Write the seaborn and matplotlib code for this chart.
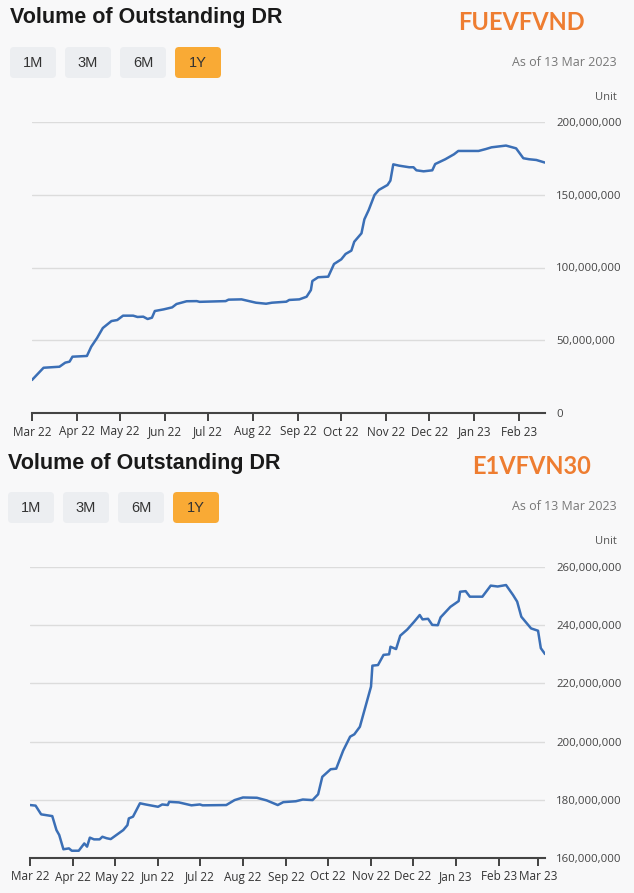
import pandas as pd
import numpy as np
import matplotlib
matplotlib.use("Agg")
import matplotlib.pyplot as plt
import matplotlib.dates as mdates
from matplotlib.patches import FancyBboxPatch
from matplotlib.ticker import FuncFormatter
import seaborn as sns

sns.set_style("white")

# FUEVFVND - volume of outstanding DR (units)
top_dates = ["2022-03-01", "2022-03-09", "2022-03-20", "2022-03-24", "2022-03-27", "2022-03-29",
             "2022-04-08", "2022-04-11", "2022-04-15", "2022-04-19", "2022-04-25", "2022-04-29",
             "2022-05-03", "2022-05-10", "2022-05-13", "2022-05-17", "2022-05-20", "2022-05-23",
             "2022-05-25", "2022-05-31", "2022-06-06", "2022-06-09", "2022-06-16", "2022-06-23",
             "2022-06-25", "2022-07-13", "2022-07-15", "2022-07-24", "2022-08-03", "2022-08-10",
             "2022-08-14", "2022-08-24", "2022-08-26", "2022-09-02", "2022-09-07", "2022-09-10",
             "2022-09-11", "2022-09-15", "2022-09-22", "2022-09-26", "2022-10-01", "2022-10-04",
             "2022-10-08", "2022-10-10", "2022-10-15", "2022-10-17", "2022-10-20", "2022-10-24",
             "2022-10-27", "2022-11-02", "2022-11-04", "2022-11-06", "2022-11-10", "2022-11-17",
             "2022-11-20", "2022-11-22", "2022-11-27", "2022-12-03", "2022-12-05", "2022-12-12",
             "2022-12-18", "2022-12-21", "2023-01-04", "2023-01-09", "2023-01-13", "2023-01-23",
             "2023-01-30", "2023-02-04", "2023-02-08", "2023-02-13", "2023-02-19"]
top_values_m = [22.7, 31.1, 31.8, 34.6, 35.3, 38.7, 39.2, 45.6, 51.5, 58.4, 63.2, 63.9,
                66.9, 66.9, 66.0, 66.2, 64.6, 65.5, 70.1, 71.2, 72.6, 74.9, 76.8, 76.9,
                76.4, 76.9, 77.9, 78.1, 75.8, 75.1, 75.8, 76.5, 77.7, 78.1, 79.9, 84.5,
                90.7, 93.3, 93.7, 102.4, 105.6, 109.3, 111.6, 117.7, 123.5, 133.1, 139.5, 149.8,
                153.3, 156.7, 159.7, 170.9, 170.0, 168.9, 168.9, 166.8, 166.1, 166.8, 171.1, 174.4,
                177.8, 180.1, 180.1, 181.4, 182.6, 183.8, 181.9, 175.1, 174.4, 173.9, 172.1]

# E1VFVN30 - volume of outstanding DR (units)
bot_dates = ["2022-03-01", "2022-03-05", "2022-03-09", "2022-03-17", "2022-03-20", "2022-03-22",
             "2022-03-25", "2022-03-29", "2022-03-31", "2022-04-05", "2022-04-09", "2022-04-11",
             "2022-04-13", "2022-04-16", "2022-04-20", "2022-04-22", "2022-04-25", "2022-04-28",
             "2022-05-07", "2022-05-10", "2022-05-11", "2022-05-14", "2022-05-19", "2022-05-23",
             "2022-06-01", "2022-06-04", "2022-06-08", "2022-06-09", "2022-06-16", "2022-06-25",
             "2022-07-01", "2022-07-03", "2022-07-20", "2022-07-26", "2022-08-01", "2022-08-11",
             "2022-08-18", "2022-08-26", "2022-08-30", "2022-09-08", "2022-09-13", "2022-09-20",
             "2022-09-24", "2022-09-27", "2022-10-03", "2022-10-07", "2022-10-12", "2022-10-17",
             "2022-10-20", "2022-10-24", "2022-10-28", "2022-11-01", "2022-11-02", "2022-11-06",
             "2022-11-10", "2022-11-14", "2022-11-15", "2022-11-19", "2022-11-22", "2022-11-27",
             "2022-12-02", "2022-12-06", "2022-12-08", "2022-12-12", "2022-12-15", "2022-12-19",
             "2022-12-21", "2022-12-28", "2023-01-03", "2023-01-04", "2023-01-08", "2023-01-11",
             "2023-01-20", "2023-01-26", "2023-01-31", "2023-02-06", "2023-02-11", "2023-02-14",
             "2023-02-17", "2023-02-21", "2023-02-24", "2023-03-01", "2023-03-03", "2023-03-06"]
bot_values_m = [178.2, 178.0, 175.0, 174.4, 169.6, 167.9, 163.0, 163.3, 162.5, 162.5, 165.0, 163.9,
                167.0, 166.4, 166.4, 167.3, 166.8, 166.5, 169.6, 171.3, 173.6, 174.2, 178.8, 178.4,
                177.6, 178.4, 178.2, 179.3, 179.1, 178.1, 178.4, 178.1, 178.2, 179.9, 180.8, 180.7,
                179.8, 178.2, 179.2, 179.5, 180.1, 179.9, 181.9, 187.9, 190.5, 190.7, 196.9, 201.7,
                202.5, 205.1, 212.0, 218.9, 226.1, 226.3, 229.8, 230.0, 232.6, 231.8, 236.4, 238.5,
                241.2, 243.5, 242.0, 242.2, 240.1, 240.0, 242.7, 246.3, 248.3, 251.5, 251.7, 249.8,
                249.8, 253.6, 253.3, 253.8, 250.4, 248.1, 242.9, 240.6, 238.9, 238.1, 232.1, 230.1]

top_ticks = [0, 50e6, 100e6, 150e6, 200e6]
bot_ticks = [160e6, 180e6, 200e6, 220e6, 240e6, 260e6]
buttons = ["1M", "3M", "6M", "1Y"]

BG = "#f8f8f9"
LINE = "#3b6fb6"
W, H = 634, 893

fig = plt.figure(figsize=(W / 100, H / 100), dpi=100, facecolor=BG)

# overlay in pixel coords for header text and buttons
ov = fig.add_axes([0, 0, 1, 1], zorder=0)
ov.set_xlim(0, W)
ov.set_ylim(H, 0)
ov.axis("off")
ov.set_facecolor(BG)


def header(y0, x0, code, code_x):
    ov.text(x0, y0 + 18, "Volume of Outstanding DR", fontsize=15.5, fontweight="bold",
            family="Liberation Sans", color="#1a1a1a", ha="left", va="center")
    ov.text(code_x, y0 + 22, code, fontsize=17, fontweight="bold", family="Lato",
            color="#ee7d31", ha="center", va="center")
    for i, b in enumerate(buttons):
        bx = x0 + i * 55
        fc = "#f9aa35" if b == "1Y" else "#eceef1"
        ov.add_patch(FancyBboxPatch((bx, y0 + 47), 46, 31,
                                    boxstyle="round,pad=0,rounding_size=4",
                                    fc=fc, ec="none"))
        ov.text(bx + 23, y0 + 63, b, fontsize=10.5, family="Liberation Sans",
                color="#333333", ha="center", va="center")
    ov.text(617, y0 + 62, "As of 13 Mar 2023", fontsize=9, family="Open Sans",
            color="#777777", ha="right", va="center")
    ov.text(617, y0 + 97, "Unit", fontsize=8, family="Open Sans",
            color="#555555", ha="right", va="center")


header(0, 10, "FUEVFVND", 521)
header(445, 8, "E1VFVN30", 532)


def panel(rect, dates, values_m, ticks, xlim):
    ax = fig.add_axes(rect, zorder=1)
    ax.set_facecolor("none")
    df = pd.DataFrame({"date": pd.to_datetime(dates), "value": np.array(values_m) * 1e6})
    sns.lineplot(data=df, x="date", y="value", ax=ax, color=LINE, linewidth=1.8)
    ax.set_ylim(ticks[0], ticks[-1])
    ax.set_xlim(pd.to_datetime(xlim[0]), pd.to_datetime(xlim[1]))
    ax.set_yticks(ticks)
    ax.yaxis.set_major_formatter(FuncFormatter(lambda v, p: f"{v:,.0f}"))
    ax.yaxis.tick_right()
    ax.tick_params(axis="y", left=False, right=False, length=0, pad=8,
                   labelsize=8.2, labelcolor="#444444")
    ax.xaxis.set_major_locator(mdates.MonthLocator())
    ax.xaxis.set_major_formatter(mdates.DateFormatter("%b %y"))
    ax.tick_params(axis="x", bottom=True, direction="out", length=6, width=1.3,
                   color="#333333", pad=3, labelsize=8.5, labelcolor="#333333")
    for lab in ax.get_xticklabels() + ax.get_yticklabels():
        lab.set_family("Open Sans")
    ax.grid(axis="y", color="#dcdcdc", linewidth=1)
    ax.grid(axis="x", visible=False)
    for s in ["top", "left", "right"]:
        ax.spines[s].set_visible(False)
    ax.spines["bottom"].set_color("#444444")
    ax.spines["bottom"].set_linewidth(1.5)
    ax.set_xlabel("")
    ax.set_ylabel("")
    return ax


panel([32 / W, (H - 413) / H, 513 / W, 291 / H], top_dates, top_values_m, top_ticks,
      ("2022-03-01", "2023-02-19"))
panel([30 / W, (H - 858) / H, 515 / W, 291 / H], bot_dates, bot_values_m, bot_ticks,
      ("2022-03-01", "2023-03-06"))

fig.savefig("out.png", dpi=100, facecolor=BG)
